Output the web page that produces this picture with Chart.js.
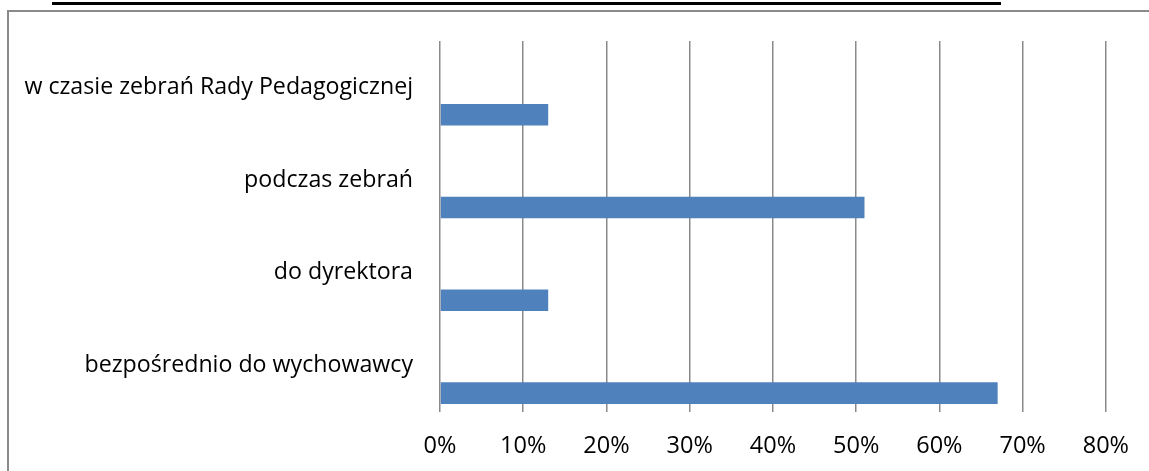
<!DOCTYPE html>
<html>
<head>
<meta charset="utf-8">
<script src="https://cdn.jsdelivr.net/npm/chart.js@4/dist/chart.umd.min.js"></script>
<style>
  html, body { margin: 0; padding: 0; background: #fff; overflow: hidden; }
  #wrap { position: relative; width: 1149px; height: 471px; }
  #rule { position: absolute; left: 52px; top: 2px; width: 949px; height: 3px; background: #000; }
  #frame { position: absolute; left: 7px; top: 10px; width: 1160px; height: 480px;
           border-top: 2px solid #8a8a8a; border-left: 2px solid #8a8a8a; box-sizing: border-box; }
  #c { position: absolute; left: 0; top: 0; }
</style>
</head>
<body>
<div id="wrap">
  <div id="rule"></div>
  <div id="frame"></div>
  <canvas id="c" width="1149" height="471"></canvas>
</div>
<script>
const categories = [
  "w czasie zebrań Rady Pedagogicznej",
  "podczas zebrań",
  "do dyrektora",
  "bezpośrednio do wychowawcy"
];
const emptySeries = [null, null, null, null];
const shares = [0.13, 0.51, 0.13, 0.67];
const tickValues = [0, 0.1, 0.2, 0.3, 0.4, 0.5, 0.6, 0.7, 0.8];

const FONT = "'Open Sans', sans-serif";

new Chart(document.getElementById('c'), {
  type: 'bar',
  data: {
    labels: categories,
    datasets: [
      { data: emptySeries, backgroundColor: '#4f81bd' },
      { data: shares, backgroundColor: '#4f81bd', borderWidth: 0 }
    ]
  },
  options: {
    indexAxis: 'y',
    responsive: false,
    animation: false,
    devicePixelRatio: 1,
    categoryPercentage: 1.183,
    barPercentage: 0.395,
    layout: { padding: { top: 40, right: 41, left: 0, bottom: 0 } },
    plugins: { legend: { display: false }, tooltip: { enabled: false }, title: { display: false } },
    scales: {
      x: {
        min: 0, max: 0.8,
        afterBuildTicks: (s) => { s.ticks = tickValues.map(v => ({ value: v })); },
        afterFit: (s) => { s.height = 59; },
        grid: { color: '#8a8a8a', lineWidth: 1.5, drawTicks: false },
        border: { display: false },
        ticks: {
          color: '#000',
          padding: 20,
          font: { family: FONT, size: 23.5 },
          callback: (v) => Math.round(v * 100) + '%'
        }
      },
      y: {
        afterFit: (s) => { s.width = 440; },
        grid: { display: false, drawTicks: false },
        border: { display: false },
        ticks: {
          color: '#000',
          padding: 27,
          font: { family: FONT, size: 23.2 }
        }
      }
    }
  }
});
</script>
</body>
</html>
